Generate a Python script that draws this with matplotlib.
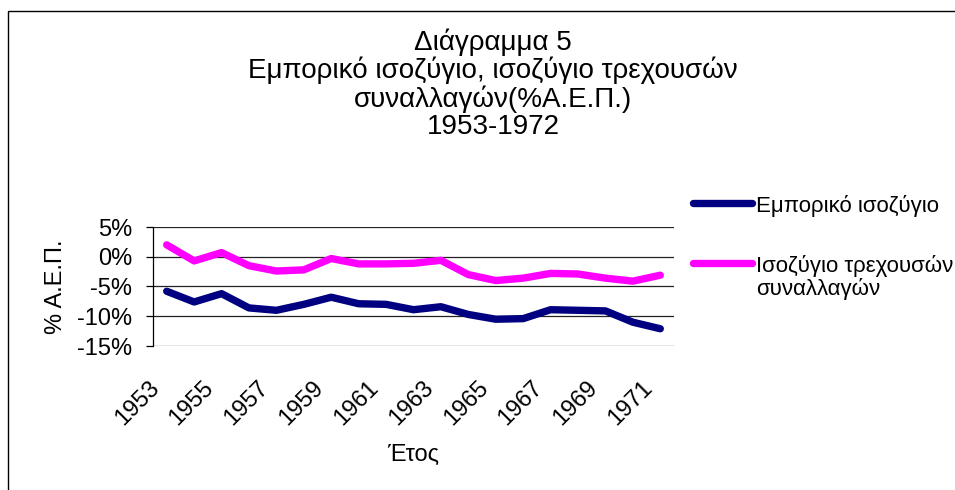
import matplotlib
matplotlib.use('Agg')
import matplotlib.pyplot as plt
from matplotlib.lines import Line2D
from matplotlib.patches import Rectangle
from matplotlib.transforms import ScaledTranslation
from matplotlib.ticker import FuncFormatter

plt.rcParams['font.family'] = ['Liberation Sans', 'DejaVu Sans']

# data (% of GDP)
years = list(range(1953, 1972))
trade_balance = [-5.8, -7.6, -6.2, -8.6, -9.0, -8.0, -6.8, -7.9, -8.0, -8.9,
                 -8.4, -9.7, -10.5, -10.4, -8.9, -9.0, -9.1, -11.0, -12.1]
current_account = [2.0, -0.7, 0.7, -1.5, -2.4, -2.2, -0.3, -1.2, -1.2, -1.1,
                   -0.6, -3.0, -4.0, -3.6, -2.8, -2.9, -3.6, -4.1, -3.1]
label_trade = 'Εμπορικό ισοζύγιο'
label_ca = 'Ισοζύγιο τρεχουσών\nσυναλλαγών'
yticks = [-15, -10, -5, 0, 5]
xtick_years = years[::2]

fig = plt.figure(figsize=(9.55, 4.9), dpi=100)
ax = fig.add_axes([153/955, 1-346/490, 521/955, 119/490])

x = list(range(len(years)))
ax.plot(x, trade_balance, color='#000080', lw=5.3, solid_capstyle='round', solid_joinstyle='round')
ax.plot(x, current_account, color='#FF00FF', lw=5.3, solid_capstyle='round', solid_joinstyle='round')

ax.set_xlim(-0.5, len(years) - 0.5)
ax.set_ylim(-15, 5)
ax.set_yticks(yticks)
ax.yaxis.set_major_formatter(FuncFormatter(lambda v, p: '%d%%' % v))
for v in yticks:
    ax.axhline(v, color='#222222', lw=0.9, zorder=0)

for s in ['top', 'right', 'bottom']:
    ax.spines[s].set_visible(False)
ax.spines['left'].set_linewidth(0.9)

ax.tick_params(axis='y', direction='out', length=5, width=0.9, pad=10, labelsize=17)
ax.set_xticks([years.index(y) for y in xtick_years])
ax.set_xticklabels([str(y) for y in xtick_years], rotation=45, ha='right', va='center',
                   rotation_mode='anchor', fontsize=17)
ax.tick_params(axis='x', length=0, pad=28)
for lab in ax.get_xticklabels():
    lab.set_transform(lab.get_transform() + ScaledTranslation(-0.11, 0, fig.dpi_scale_trans))

ax.set_ylabel('% Α.Ε.Π.', fontsize=17, labelpad=7)
ax.set_xlabel('Έτος', fontsize=17)
ax.xaxis.set_label_coords(0.5, -0.82)

fig.text(493/955, 1-84/490,
         'Διάγραμμα 5\nΕμπορικό ισοζύγιο, ισοζύγιο τρεχουσών\nσυναλλαγών(%Α.Ε.Π.)\n1953-1972',
         ha='center', va='center', multialignment='center', fontsize=20, linespacing=1.05)

# legend drawn in the Excel style, handle next to the first text line
fig.add_artist(Line2D([693/955, 752/955], [1-203/490, 1-203/490], color='#000080', lw=5.3,
                      solid_capstyle='round', transform=fig.transFigure))
fig.text(756/955, 1-206/490, label_trade, fontsize=16, va='center', ha='left')
fig.add_artist(Line2D([693/955, 752/955], [1-263/490, 1-263/490], color='#FF00FF', lw=5.3,
                      solid_capstyle='round', transform=fig.transFigure))
fig.text(756/955, 1-255/490, label_ca, fontsize=16, va='top', ha='left', linespacing=1.05)

fig.add_artist(Rectangle((8/955, -0.2), 1.5, 1 - 11/490 + 0.2, fill=False, lw=1,
                         edgecolor='black', transform=fig.transFigure))

fig.savefig('out.png', dpi=100)
